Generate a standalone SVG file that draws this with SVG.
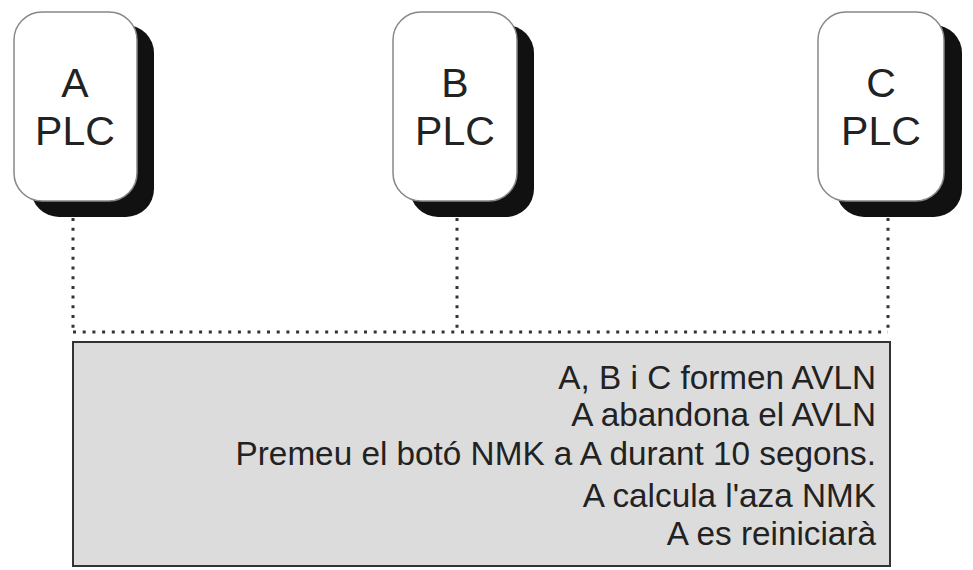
<svg xmlns="http://www.w3.org/2000/svg" width="973" height="570" viewBox="0 0 973 570">
<style>
.shadow{fill:#111;}
.node{fill:#fff;stroke:#888;stroke-width:1.5;}
.lbl{font-family:"Liberation Sans",Arial,sans-serif;font-size:41px;fill:#222;text-anchor:middle;}
.dot{stroke:#333;stroke-width:3;stroke-dasharray:3 6.7;fill:none;}
.msg{font-family:"Liberation Sans",Arial,sans-serif;font-size:33.3px;fill:#222;text-anchor:end;}
</style>
<rect width="973" height="570" fill="#fff"/>
<g id="connectors">
<path class="dot" d="M73 218 V332"/>
<path class="dot" d="M457 218 V332"/>
<path class="dot" d="M888 218 V332"/>
<path class="dot" d="M73 332 H888"/>
</g>
<g id="nodeA">
<rect class="shadow" x="31" y="25" width="123" height="192" rx="28"/>
<rect class="node" x="14" y="12" width="123" height="189" rx="28"/>
<text class="lbl" x="75" y="97">A</text>
<text class="lbl" x="75" y="145">PLC</text>
</g>
<g id="nodeB">
<rect class="shadow" x="410" y="25" width="124" height="192" rx="28"/>
<rect class="node" x="393" y="12" width="124" height="189" rx="28"/>
<text class="lbl" x="455" y="97">B</text>
<text class="lbl" x="455" y="145">PLC</text>
</g>
<g id="nodeC">
<rect class="shadow" x="836" y="25" width="126" height="192" rx="28"/>
<rect class="node" x="818" y="12" width="126" height="189" rx="28"/>
<text class="lbl" x="881" y="97">C</text>
<text class="lbl" x="881" y="145">PLC</text>
</g>
<g id="message">
<rect x="73" y="342" width="817" height="224" fill="#dcdcdc" stroke="#333" stroke-width="2"/>
<text class="msg" x="876" y="389">A, B i C formen AVLN</text>
<text class="msg" x="876" y="426">A abandona el AVLN</text>
<text class="msg" x="876" y="465">Premeu el botó NMK a A durant 10 segons.</text>
<text class="msg" x="876" y="507">A calcula l'aza NMK</text>
<text class="msg" x="876" y="545">A es reiniciarà</text>
</g>
</svg>
